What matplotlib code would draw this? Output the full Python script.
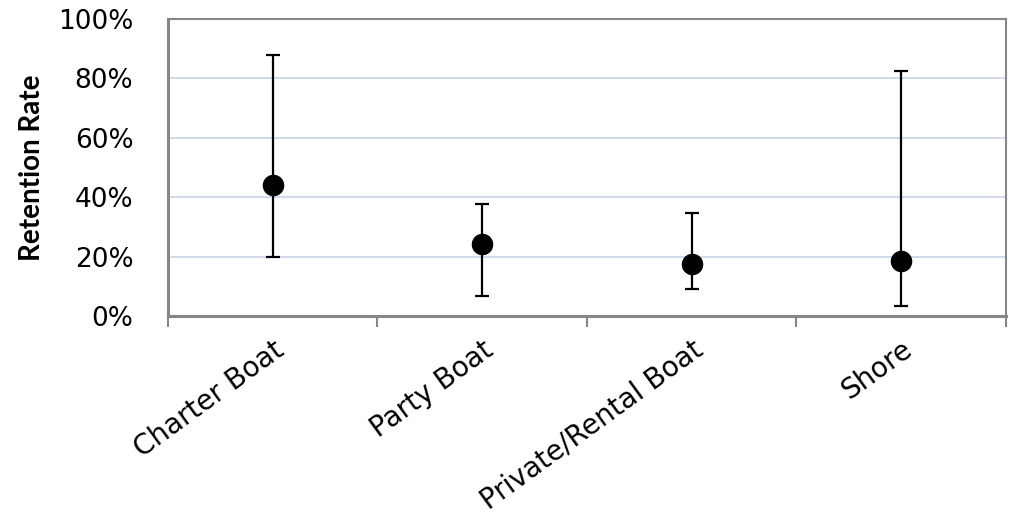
import matplotlib
matplotlib.use("Agg")
import matplotlib.pyplot as plt
from matplotlib.ticker import FixedLocator, PercentFormatter

categories = ["Charter Boat", "Party Boat", "Private/Rental Boat", "Shore"]
retention = [0.44, 0.242, 0.175, 0.185]
upper = [0.877, 0.376, 0.345, 0.825]
lower = [0.198, 0.067, 0.09, 0.034]

plt.rcParams["font.family"] = ["DejaVu Sans"]

fig = plt.figure(figsize=(10.09, 5.15), dpi=100)
ax = fig.add_axes([0.1665, 0.3864, 0.8305, 0.5776])

x = list(range(len(categories)))
yerr = [[r - lo for r, lo in zip(retention, lower)],
        [hi - r for r, hi in zip(retention, upper)]]
ax.errorbar(x, retention, yerr=yerr, fmt="o", color="black", ecolor="black",
            markersize=14.5, elinewidth=1.6, capsize=5, capthick=1.6, zorder=3)

ax.set_xlim(-0.5, len(categories) - 0.5)
ax.set_ylim(0, 1)

# y axis: percentage labels, gridlines, outward ticks only at the ends
ax.yaxis.set_major_locator(FixedLocator([0, 0.2, 0.4, 0.6, 0.8, 1.0]))
ax.yaxis.set_major_formatter(PercentFormatter(1.0, decimals=0))
ax.yaxis.set_minor_locator(FixedLocator([0, 1.0]))
ax.tick_params(axis="y", which="major", length=0, pad=25, labelsize=19)
ax.tick_params(axis="y", which="minor", length=8, width=1.5, color="#868686")
ax.grid(axis="y", color="#ccd7ea", linewidth=1.3, zorder=0)

# x axis: ticks at category boundaries, labels centred on categories
ax.xaxis.set_major_locator(FixedLocator([i - 0.5 for i in range(len(categories) + 1)]))
ax.xaxis.set_major_formatter(plt.NullFormatter())
ax.set_xticks(x, categories, minor=True)
ax.tick_params(axis="x", which="major", length=8, width=1.5, color="#868686", direction="out")
ax.tick_params(axis="x", which="minor", length=0, pad=14, labelsize=20)
for lbl in ax.get_xticklabels(minor=True):
    lbl.set_rotation(36)
    lbl.set_ha("right")
    lbl.set_va("top")
    lbl.set_rotation_mode("anchor")

for side in ["left", "bottom"]:
    ax.spines[side].set_color("#868686")
    ax.spines[side].set_linewidth(2.2)
for side in ["top", "right"]:
    ax.spines[side].set_color("#868686")
    ax.spines[side].set_linewidth(1.5)

ax.set_ylabel("Retention Rate", fontsize=20, fontweight="bold", labelpad=9,
              family=["Lato", "DejaVu Sans"])

fig.savefig("out.png", dpi=100)
